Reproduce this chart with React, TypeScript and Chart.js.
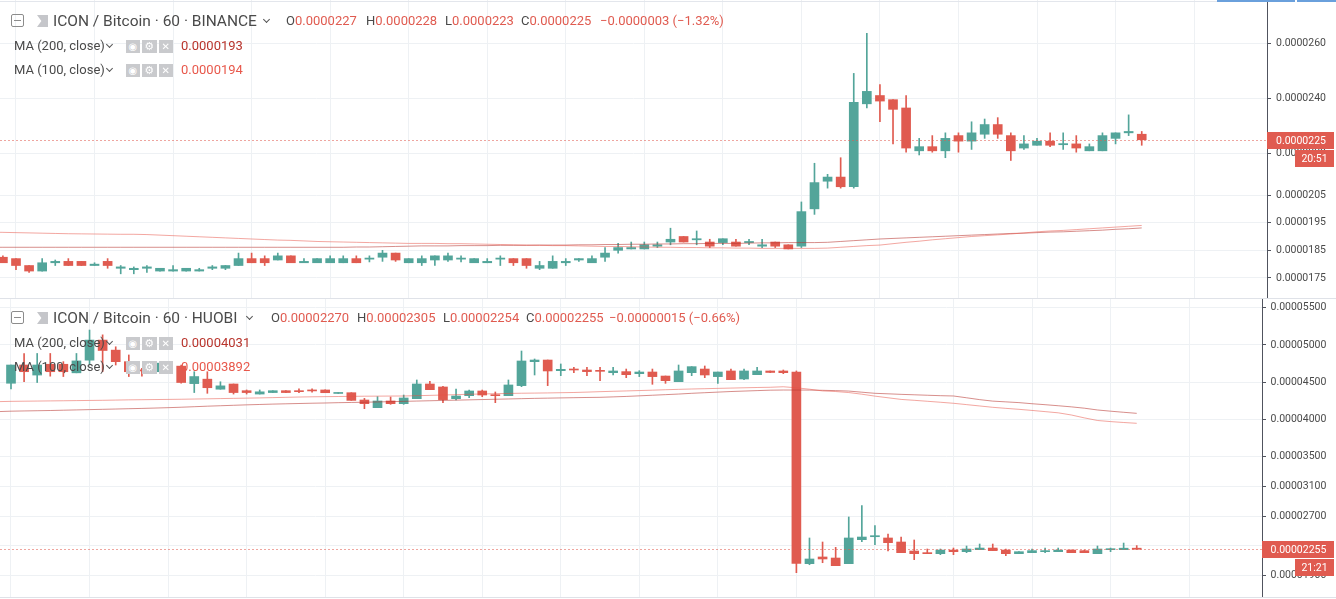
import React, { useEffect, useRef } from "react";
import { Chart, registerables } from "chart.js";

Chart.register(...registerables);

// ---------- colours ----------
const GREEN = "#53a59a";
const RED = "#e05b50";
const MA100_COLOR = "rgba(232, 80, 68, 0.5)";
const MA200_COLOR = "rgba(183, 49, 44, 0.55)";
const GRID = "#eef1f4";
const AXIS = "#50535e";
const TEXT = "#4a4a4a";

// ---------- BINANCE ICX/BTC 60, prices in satoshi (1e-8 BTC) ----------
const TOP_OPEN = [1825,1820,1795,1775,1805,1810,1810,1795,1810,1785,1780,1785,1775,1775,1775,1775,1785,1785,1795,1820,1820,1815,1830,1805,1805,1805,1805,1820,1818,1825,1840,1805,1805,1815,1815,1818,1805,1805,1818,1820,1820,1785,1785,1805,1815,1805,1825,1850,1855,1855,1865,1880,1900,1888,1880,1878,1880,1878,1865,1880,1870,1865,2000,2100,2115,2080,2380,2410,2395,2365,2210,2225,2210,2265,2245,2270,2305,2265,2220,2230,2245,2232,2235,2210,2210,2255,2275,2270];
const TOP_HIGH = [1830,1820,1795,1820,1815,1820,1810,1805,1820,1795,1790,1795,1785,1795,1785,1785,1795,1795,1840,1840,1830,1840,1830,1820,1820,1830,1830,1830,1830,1850,1840,1820,1830,1830,1840,1830,1820,1820,1830,1820,1820,1810,1830,1820,1820,1830,1860,1875,1880,1880,1880,1930,1900,1920,1890,1892,1890,1890,1890,1880,1870,2025,2165,2125,2185,2490,2635,2450,2395,2410,2255,2265,2275,2275,2315,2325,2330,2275,2265,2255,2275,2275,2265,2235,2275,2275,2340,2280];
const TOP_LOW = [1805,1780,1770,1775,1795,1795,1795,1795,1785,1765,1765,1770,1775,1775,1775,1775,1780,1780,1795,1805,1795,1815,1805,1805,1805,1805,1805,1805,1808,1810,1810,1805,1795,1795,1810,1808,1805,1805,1795,1795,1785,1780,1785,1795,1810,1805,1810,1840,1855,1855,1860,1870,1880,1870,1860,1870,1865,1870,1860,1860,1855,1860,1980,2075,2075,2075,2365,2315,2235,2205,2195,2205,2185,2205,2215,2255,2255,2175,2215,2230,2225,2215,2205,2210,2210,2235,2265,2230];
const TOP_CLOSE = [1805,1795,1775,1805,1810,1795,1795,1800,1795,1790,1785,1790,1785,1780,1785,1780,1790,1795,1820,1805,1805,1830,1805,1810,1820,1820,1820,1805,1822,1840,1815,1820,1820,1830,1830,1822,1820,1810,1822,1805,1795,1795,1810,1810,1820,1820,1840,1860,1860,1870,1870,1890,1880,1892,1865,1892,1865,1882,1870,1865,1855,1990,2095,2115,2080,2385,2425,2390,2360,2220,2225,2210,2255,2245,2275,2305,2270,2210,2235,2245,2230,2236,2220,2225,2265,2275,2280,2250];
// moving averages, first value is one bar before the first candle
const TOP_MA100 = [1916,1915,1914,1913,1912,1911,1910,1909.5,1909,1908.5,1908,1908,1907,1905,1903,1901,1899,1897,1895,1893,1891,1889,1887,1886,1884,1882,1881,1880,1879,1878,1877,1876,1875,1875,1875,1874,1874,1873,1872,1871,1870,1869,1868,1867,1867,1866,1865,1864,1864,1863,1862,1861,1861,1860,1860,1859,1859,1858,1858,1857,1857,1857,1857,1857,1858,1861,1864,1867,1869,1874,1879,1883,1888,1892,1896,1900,1903,1906,1909,1913,1917,1920,1922,1925,1928,1931,1934,1937,1940];
const TOP_MA200 = [1861,1861,1861,1861,1861,1861,1861,1861,1861,1861,1861,1861,1861,1861,1861,1861,1861,1861,1861,1861,1861,1861,1861,1861,1861,1861,1861,1861,1862,1862,1863,1864,1865,1866,1866,1866,1867,1867,1867,1868,1868,1868,1869,1869,1869,1870,1870,1871,1871,1872,1872,1873,1873,1874,1874,1875,1875,1875,1876,1877,1877,1878,1878,1878,1879,1882,1885,1888,1891,1893,1895,1897,1899,1901,1903,1905,1907,1909,1911,1912,1914,1916,1917,1919,1921,1923,1926,1928,1931];
const TOP_Y_TICKS = [1750, 1850, 1950, 2050, 2200, 2400, 2600];
const TOP_TIME_GRID = [1, 7, 13, 19, 25, 31, 37, 43, 49, 55, 61, 67, 73, 79, 85, 91];

// ---------- HUOBI ICX/BTC 60, prices in satoshi ----------
const BOT_OPEN = [4485,4730,4595,4740,4740,4625,4795,5065,4930,4775,4665,4640,4730,4715,4480,4540,4405,4475,4385,4340,4360,4385,4385,4395,4395,4348,4358,4260,4157,4247,4211,4278,4475,4435,4278,4318,4381,4327,4318,4453,4775,4797,4654,4676,4663,4654,4627,4641,4614,4636,4582,4506,4627,4676,4574,4650,4542,4600,4650,4650,4636,2062,2152,2138,2062,2384,2424,2407,2353,2232,2210,2196,2245,2223,2250,2272,2245,2196,2210,2223,2223,2245,2237,2196,2250,2250,2270];
const BOT_HIGH = [4730,4885,4885,4885,4775,4885,5200,5135,4975,4865,4685,4760,4750,4730,4640,4640,4505,4475,4395,4395,4385,4385,4410,4410,4395,4358,4358,4282,4305,4300,4327,4529,4511,4444,4408,4394,4394,4368,4529,4918,4811,4797,4744,4699,4699,4699,4699,4676,4654,4676,4582,4730,4708,4717,4636,4676,4676,4699,4650,4663,4650,2407,2353,2281,2689,2841,2572,2460,2420,2380,2259,2259,2272,2299,2326,2326,2259,2223,2259,2272,2272,2245,2245,2299,2272,2339,2305];
const BOT_LOW = [4410,4505,4495,4580,4575,4625,4740,4640,4730,4575,4580,4640,4700,4485,4360,4350,4405,4340,4340,4340,4360,4360,4360,4365,4358,4348,4255,4144,4157,4202,4202,4278,4399,4224,4260,4291,4305,4224,4318,4439,4596,4453,4587,4627,4587,4520,4596,4560,4574,4471,4484,4506,4587,4560,4484,4533,4533,4600,4627,4614,1941,2048,2075,2035,2062,2357,2317,2232,2210,2116,2196,2183,2183,2210,2250,2237,2169,2196,2210,2210,2223,2210,2210,2196,2223,2250,2254];
const BOT_CLOSE = [4730,4640,4730,4640,4640,4785,5065,4925,4775,4640,4650,4755,4720,4495,4575,4425,4450,4360,4360,4370,4385,4360,4372,4382,4358,4358,4255,4211,4247,4211,4287,4475,4399,4265,4314,4381,4327,4318,4462,4784,4797,4650,4672,4663,4641,4645,4650,4600,4636,4574,4520,4650,4708,4596,4636,4533,4650,4650,4630,4627,2066,2125,2125,2035,2407,2420,2438,2344,2210,2196,2196,2245,2223,2259,2272,2237,2196,2223,2237,2237,2245,2210,2210,2259,2259,2270,2255];
const BOT_MA100 = [4238,4242,4244,4246,4248,4250,4252,4254,4256,4259,4262,4264,4266,4268,4270,4273,4276,4279,4282,4285,4288,4292,4296,4300,4303,4305,4307,4309,4311,4312,4313,4314,4318,4322,4327,4332,4337,4341,4345,4348,4351,4353,4355,4358,4361,4366,4372,4377,4382,4387,4392,4398,4403,4408,4412,4416,4420,4424,4428,4431,4438,4424,4405,4382,4374,4360,4338,4312,4290,4268,4256,4243,4230,4216,4198,4180,4162,4148,4135,4120,4104,4088,4059,4020,3985,3970,3958,3947];
const BOT_MA200 = [4104,4110,4113,4116,4119,4123,4127,4131,4135,4139,4143,4147,4152,4157,4163,4170,4177,4183,4189,4195,4200,4205,4209,4213,4217,4220,4224,4227,4230,4234,4238,4242,4246,4250,4254,4258,4262,4266,4270,4274,4278,4282,4285,4288,4291,4294,4296,4302,4308,4316,4324,4332,4340,4350,4358,4366,4374,4380,4386,4392,4394,4394,4393,4390,4386,4380,4365,4350,4343,4336,4330,4324,4318,4314,4290,4265,4245,4235,4225,4210,4197,4183,4168,4150,4126,4110,4095,4081];
const BOT_Y_TICKS = [1900, 2300, 2700, 3100, 3500, 4000, 4500, 5000, 5500];
const BOT_TIME_GRID = [0, 6, 12, 18, 24, 30, 36, 42, 48, 54, 60, 66, 72, 78, 84, 90];

// ---------- legend texts ----------
const TOP_TEXT = {
  title: "ICON / Bitcoin · 60 · BINANCE",
  o: "0.0000227", h: "0.0000228", l: "0.0000223", c: "0.0000225",
  chg: "\u22120.0000003 (\u22121.32%)",
  ma200: "0.0000193", ma100: "0.0000194",
  last: 2250, time: "20:51",
};
const BOT_TEXT = {
  title: "ICON / Bitcoin · 60 · HUOBI",
  o: "0.00002270", h: "0.00002305", l: "0.00002254", c: "0.00002255",
  chg: "\u22120.00000015 (\u22120.66%)",
  ma200: "0.00004031", ma100: "0.00003892",
  last: 2255, time: "21:21",
};

type Panel = {
  canvasH: number;
  padBottom: number;
  axisW: number;
  tickPad: number;
  xMin: number; xMax: number; xGrid: number[];
  yMin: number; yMax: number; yTicks: number[];
  decimals: number;
  open: number[]; high: number[]; low: number[]; close: number[];
  ma100: number[]; ma200: number[];
  last: number; lastText: string; time: string;
};

const tagPlugin = {
  id: "priceTag",
  afterDatasetsDraw(chart: any, _a: any, opts: any) {
    const { ctx, chartArea } = chart;
    const y = Math.round(chart.scales.y.getPixelForValue(opts.value)) + 0.5;
    ctx.save();
    ctx.strokeStyle = "rgba(224, 91, 80, 0.55)";
    ctx.lineWidth = 1;
    ctx.setLineDash([2, 2]);
    ctx.beginPath();
    ctx.moveTo(chartArea.left, y);
    ctx.lineTo(chartArea.right, y);
    ctx.stroke();
    ctx.restore();
  },
  afterDraw(chart: any, _a: any, opts: any) {
    const { ctx, chartArea, width } = chart;
    const yc = Math.round(chart.scales.y.getPixelForValue(opts.value));
    const r = width - 2;
    ctx.save();
    ctx.fillStyle = RED;
    ctx.fillRect(chartArea.right, yc - 8, r - chartArea.right, 17);
    ctx.fillRect(opts.timeLeft, yc + 10, r - opts.timeLeft, 17);
    ctx.fillStyle = "#ffffff";
    ctx.font = "10.5px Roboto";
    ctx.textBaseline = "middle";
    ctx.textAlign = "left";
    ctx.fillText(opts.text, chartArea.right + opts.textOff, yc + 1);
    ctx.textAlign = "center";
    ctx.fillText(opts.time, (opts.timeLeft + r) / 2, yc + 19);
    ctx.restore();
  },
};

function buildConfig(p: Panel): any {
  const idx = p.open.map((_, k) => k);
  const colors = idx.map((k) => (p.close[k] >= p.open[k] ? GREEN : RED));
  return {
    type: "bar",
    data: {
      datasets: [
        {
          type: "line",
          label: "MA100",
          data: p.ma100.map((v, k) => ({ x: k - 1, y: v })),
          borderColor: MA100_COLOR,
          borderWidth: 1,
          pointRadius: 0,
          tension: 0,
          order: 0,
        },
        {
          type: "line",
          label: "MA200",
          data: p.ma200.map((v, k) => ({ x: k - 1, y: v })),
          borderColor: MA200_COLOR,
          borderWidth: 1,
          pointRadius: 0,
          tension: 0,
          order: 0,
        },
        {
          type: "bar",
          label: "wick",
          data: idx.map((k) => ({ x: k, y: [p.low[k], p.high[k]] })),
          backgroundColor: colors,
          barThickness: 1,
          grouped: false,
          borderWidth: 0,
          order: 2,
        },
        {
          type: "bar",
          label: "body",
          data: idx.map((k) => ({
            x: k,
            y: [Math.min(p.open[k], p.close[k]), Math.max(p.open[k], p.close[k])],
          })),
          backgroundColor: colors,
          barThickness: 9,
          minBarLength: 1,
          grouped: false,
          borderWidth: 0,
          order: 1,
        },
      ],
    },
    options: {
      responsive: false,
      animation: false,
      events: [],
      layout: { padding: { left: 0, right: 0, top: 0, bottom: p.padBottom } },
      plugins: {
        legend: { display: false },
        tooltip: { enabled: false },
        priceTag: {
          value: p.last,
          text: p.lastText,
          time: p.time,
          timeLeft: 1295,
          textOff: 4 + p.tickPad,
        },
      },
      scales: {
        x: {
          type: "linear",
          min: p.xMin,
          max: p.xMax,
          offset: false,
          grid: { color: GRID, drawTicks: false, offset: false, lineWidth: 1 },
          border: { display: false },
          ticks: { display: false },
          afterBuildTicks: (s: any) => {
            s.ticks = p.xGrid.map((v) => ({ value: v }));
          },
          afterFit: (s: any) => {
            s.height = 0;
            s.paddingLeft = 0;
            s.paddingRight = 0;
          },
        },
        y: {
          type: "linear",
          position: "right",
          min: p.yMin,
          max: p.yMax,
          grid: { color: GRID, tickColor: AXIS, tickLength: 4, lineWidth: 1 },
          border: { display: true, color: AXIS, width: 1 },
          ticks: {
            color: TEXT,
            font: { family: "Roboto", size: 10.5 },
            padding: p.tickPad,
            autoSkip: false,
            callback: (v: any) => (Number(v) / 1e8).toFixed(p.decimals),
          },
          afterBuildTicks: (s: any) => {
            s.ticks = p.yTicks.map((v) => ({ value: v }));
          },
          afterFit: (s: any) => {
            s.width = p.axisW;
            s.paddingTop = 0;
            s.paddingBottom = 0;
          },
        },
      },
    },
    plugins: [tagPlugin],
  };
}

function CandleCanvas({ panel, top }: { panel: Panel; top: number }) {
  const ref = useRef<HTMLCanvasElement | null>(null);
  useEffect(() => {
    if (!ref.current) return;
    const chart = new Chart(ref.current, buildConfig(panel));
    return () => chart.destroy();
  }, []);
  return (
    <canvas
      ref={ref}
      width={1336}
      height={panel.canvasH}
      style={{ position: "absolute", left: 0, top, width: 1336, height: panel.canvasH, display: "block" }}
    />
  );
}

const abs: React.CSSProperties = { position: "absolute", whiteSpace: "nowrap", fontFamily: "Roboto, sans-serif" };

function Chevron({ x, y }: { x: number; y: number }) {
  return (
    <div
      style={{
        position: "absolute",
        left: x,
        top: y,
        width: 4,
        height: 4,
        borderRight: "1.5px solid #555",
        borderBottom: "1.5px solid #555",
        transform: "rotate(45deg)",
      }}
    />
  );
}

function Icons({ y }: { y: number }) {
  const box = (x: number, glyph: string, size: number) => (
    <div
      key={x}
      style={{
        position: "absolute",
        left: x,
        top: y,
        width: 14.5,
        height: 13,
        background: "#c9cacd",
        color: "#fff",
        fontSize: size,
        lineHeight: "13px",
        textAlign: "center",
        fontFamily: "DejaVu Sans, sans-serif",
      }}
    >
      {glyph}
    </div>
  );
  return (
    <>
      {box(125.5, "\u25C9", 10)}
      {box(142, "\u2699", 11)}
      {box(158.5, "\u2715", 10)}
    </>
  );
}

function Legend({ top, t, ox, chevX }: { top: number; t: typeof TOP_TEXT; ox: number[]; chevX: number }) {
  const row = (cy: number, fs: number) => ({ top: top + cy - 8, fontSize: fs, lineHeight: "16px" });
  return (
    <>
      <div
        style={{
          position: "absolute",
          left: 11,
          top: top + 14,
          width: 11,
          height: 11,
          border: "1px solid #8c8c8c",
          borderRadius: 2,
        }}
      >
        <div style={{ position: "absolute", left: 2, top: 5, width: 7, height: 1, background: "#8c8c8c" }} />
      </div>
      <div
        style={{
          position: "absolute",
          left: 37,
          top: top + 15,
          width: 11,
          height: 12,
          background: "#c5c6ca",
          clipPath: "polygon(0 0, 100% 0, 100% 100%, 0 100%, 40% 50%)",
        }}
      />
      <span style={{ ...abs, left: 53, top: top + 11.5, fontSize: 15.5, lineHeight: "19px", color: TEXT }}>{t.title}</span>
      <Chevron x={chevX} y={top + 17} />
      {[
        ["O", t.o],
        ["H", t.h],
        ["L", t.l],
        ["C", t.c],
      ].map(([k, v], n) => (
        <span key={k} style={{ ...abs, left: ox[n], ...row(21, 13), color: TEXT }}>
          {k}
          <span style={{ color: RED }}>{v}</span>
        </span>
      ))}
      <span style={{ ...abs, left: ox[4], ...row(21, 13), color: RED }}>{t.chg}</span>

      <span style={{ ...abs, left: 14, ...row(46, 13), color: TEXT }}>MA (200, close)</span>
      <Chevron x={107} y={top + 42} />
      <Icons y={top + 40} />
      <span style={{ ...abs, left: 181, ...row(46, 13), color: "#b8342c" }}>{t.ma200}</span>

      <span style={{ ...abs, left: 14, ...row(70, 13), color: TEXT }}>MA (100, close)</span>
      <Chevron x={107} y={top + 66} />
      <Icons y={top + 64} />
      <span style={{ ...abs, left: 181, ...row(70, 13), color: "#e8584b" }}>{t.ma100}</span>
    </>
  );
}

const TOP_PANEL: Panel = {
  canvasH: 299,
  padBottom: 1,
  axisW: 69,
  tickPad: 5,
  xMin: -0.2215,
  xMax: 96.57,
  xGrid: TOP_TIME_GRID,
  yMin: 1677.5,
  yMax: 2755.6,
  yTicks: TOP_Y_TICKS,
  decimals: 7,
  open: TOP_OPEN,
  high: TOP_HIGH,
  low: TOP_LOW,
  close: TOP_CLOSE,
  ma100: TOP_MA100,
  ma200: TOP_MA200,
  last: TOP_TEXT.last,
  lastText: (TOP_TEXT.last / 1e8).toFixed(7),
  time: TOP_TEXT.time,
};

const BOT_PANEL: Panel = {
  canvasH: 300,
  padBottom: 2,
  axisW: 74,
  tickPad: 4.5,
  xMin: -0.8403,
  xMax: 95.57,
  xGrid: BOT_TIME_GRID,
  yMin: 1614.4,
  yMax: 5616.5,
  yTicks: BOT_Y_TICKS,
  decimals: 8,
  open: BOT_OPEN,
  high: BOT_HIGH,
  low: BOT_LOW,
  close: BOT_CLOSE,
  ma100: BOT_MA100,
  ma200: BOT_MA200,
  last: BOT_TEXT.last,
  lastText: (BOT_TEXT.last / 1e8).toFixed(8),
  time: BOT_TEXT.time,
};

export default function App() {
  return (
    <div
      style={{
        position: "fixed",
        left: 0,
        top: 0,
        width: 1336,
        height: 599,
        background: "#ffffff",
        overflow: "hidden",
      }}
    >
      <CandleCanvas panel={TOP_PANEL} top={0} />
      <CandleCanvas panel={BOT_PANEL} top={299} />
      <div style={{ position: "absolute", left: 0, top: 1, width: 1217, height: 1, background: "#e3e6ec" }} />
      <div style={{ position: "absolute", left: 1217, top: 0, width: 78, height: 2, background: "#6aa0dc" }} />
      <div style={{ position: "absolute", left: 1297, top: 0, width: 39, height: 2, background: "#6aa0dc" }} />
      <div style={{ position: "absolute", left: 0, top: 298, width: 1336, height: 1, background: "#dfe2e8" }} />
      <div style={{ position: "absolute", left: 0, top: 597, width: 1336, height: 1, background: "#dfe2e8" }} />
      <Legend top={0} t={TOP_TEXT} ox={[286, 366, 445, 521, 600]} chevX={264} />
      <Legend top={297} t={BOT_TEXT} ox={[271, 357, 443, 526, 609]} chevX={247} />
    </div>
  );
}
